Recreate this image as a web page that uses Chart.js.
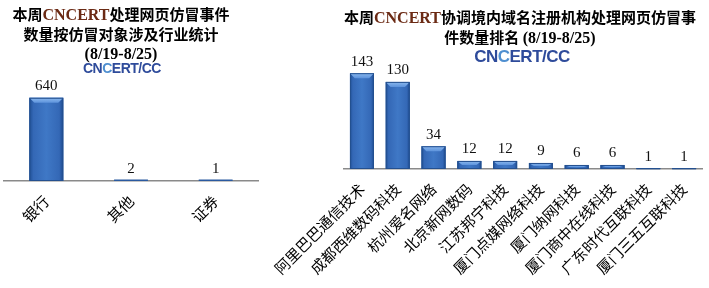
<!DOCTYPE html>
<html lang="zh">
<head>
    <meta charset="UTF-8" />
    <title>本周CNCERT网页仿冒事件统计</title>
    <script src="https://cdn.jsdelivr.net/npm/chart.js"></script>
    <style>
        body {
            margin: 0;
            padding: 0;
            background: #fff;
            width: 709px;
            height: 288px;
            position: relative;
            overflow: hidden;
            font-family: 'Noto Sans CJK SC', sans-serif;
        }

        .title {
            position: absolute;
            text-align: center;
            font-size: 15px;
            line-height: 19px;
            font-weight: bold;
            color: #000;
            z-index: 2;
        }

        .title .en {
            font-family: 'Liberation Serif', serif;
            font-weight: bold;
            font-size: 16px;
        }

        .title .brand {
            color: #6b2a14;
        }

        .logo {
            position: absolute;
            font-family: 'Liberation Sans', Arial, sans-serif;
            font-weight: bold;
            color: #2e4b9b;
            transform: translateX(-50%);
            letter-spacing: -0.5px;
            z-index: 2;
        }

        .logo .globe {
            color: #4f8fd0;
        }

        .box {
            position: absolute;
            top: 0;
            height: 288px;
        }
    </style>
</head>
<body>
    <div class="title" style="left:0; top:4px; width:242px;">
        本周<span class="en brand">CNCERT</span>处理网页仿冒事件<br>
        数量按仿冒对象涉及行业统计<br>
        <span class="en">(8/19-8/25)</span>
    </div>
    <div class="logo" style="left:122px; top:60px; font-size:14px;">CN<span class="globe">C</span>ERT/CC</div>

    <div class="title" style="left:330px; top:7px; width:380px;">
        本周<span class="en brand">CNCERT</span>协调境内域名注册机构处理网页仿冒事<br>
        件数量排名 <span class="en">(8/19-8/25)</span>
    </div>
    <div class="logo" style="left:522px; top:47px; font-size:17px;">CN<span class="globe">C</span>ERT/CC</div>

    <div class="box" style="left:0; width:262px;"><canvas id="industryChart" width="262" height="288"></canvas></div>
    <div class="box" style="left:262px; width:447px;"><canvas id="registrarChart" width="447" height="288"></canvas></div>

    <script>
        // left chart: by industry
        const industryLabels = ['银行', '其他', '证券'];
        const industryCounts = [640, 2, 1];

        // right chart: by registrar
        const registrarLabels = [
            '阿里巴巴通信技术', '成都西维数码科技', '杭州爱名网络', '北京新网数码', '江苏邦宁科技',
            '厦门点媒网络科技', '厦门纳网科技', '厦门商中在线科技', '广东时代互联科技', '厦门三五互联科技'
        ];
        const registrarCounts = [143, 130, 34, 12, 12, 9, 6, 6, 1, 1];

        // shaded bars drawn over the library's bar elements
        const bevelBars = {
            id: 'bevelBars',
            afterDatasetsDraw(chart) {
                const ctx = chart.ctx;
                const meta = chart.getDatasetMeta(0);
                ctx.save();
                meta.data.forEach(bar => {
                    const { x, y, base, width } = bar.getProps(['x', 'y', 'base', 'width'], true);
                    const left = x - width / 2;
                    const h = base - y;
                    if (h < 0.5) {
                        ctx.fillStyle = '#2a5aa0';
                        ctx.fillRect(left, base - 1.5, width, 1.5);
                        return;
                    }
                    const grad = ctx.createLinearGradient(left, 0, left + width, 0);
                    grad.addColorStop(0, '#1f4f95');
                    grad.addColorStop(0.12, '#3468b6');
                    grad.addColorStop(0.5, '#3f78c6');
                    grad.addColorStop(0.88, '#3468b6');
                    grad.addColorStop(1, '#1d4a8e');
                    ctx.fillStyle = grad;
                    ctx.fillRect(left, y, width, h);

                    // top bevel
                    const bev = Math.min(5, h / 2);
                    const inset = Math.min(5, width / 5);
                    const tg = ctx.createLinearGradient(0, y, 0, y + bev);
                    tg.addColorStop(0, '#8cb9ee');
                    tg.addColorStop(1, '#5d93dc');
                    ctx.fillStyle = tg;
                    ctx.beginPath();
                    ctx.moveTo(left, y);
                    ctx.lineTo(left + width, y);
                    ctx.lineTo(left + width - inset, y + bev);
                    ctx.lineTo(left + inset, y + bev);
                    ctx.closePath();
                    ctx.fill();

                    ctx.strokeStyle = '#24508f';
                    ctx.lineWidth = 1;
                    ctx.strokeRect(left + 0.5, y + 0.5, width - 1, h - 1);
                });
                ctx.restore();
            }
        };

        // value on top of each bar
        const valueLabels = {
            id: 'valueLabels',
            afterDatasetsDraw(chart) {
                const ctx = chart.ctx;
                const meta = chart.getDatasetMeta(0);
                const values = chart.data.datasets[0].data;
                ctx.save();
                ctx.font = '15px "Liberation Serif", serif';
                ctx.fillStyle = '#111';
                ctx.textAlign = 'center';
                ctx.textBaseline = 'bottom';
                meta.data.forEach((bar, i) => {
                    ctx.fillText(values[i], bar.x, bar.y - 4);
                });
                ctx.restore();
            }
        };

        function makeChart(id, labels, values, opts) {
            return new Chart(document.getElementById(id).getContext('2d'), {
                type: 'bar',
                data: {
                    labels: labels,
                    datasets: [{
                        data: values,
                        backgroundColor: '#3a70be',
                        barPercentage: opts.barPct,
                        categoryPercentage: 1
                    }]
                },
                options: {
                    responsive: false,
                    animation: false,
                    layout: { padding: opts.padding },
                    plugins: {
                        legend: { display: false },
                        tooltip: { enabled: false }
                    },
                    scales: {
                        x: {
                            grid: { display: false, drawTicks: false },
                            border: { display: true, color: '#8a8a8a', width: 1.5 },
                            ticks: {
                                autoSkip: false,
                                maxRotation: 45,
                                minRotation: 45,
                                padding: opts.tickPad,
                                color: '#000',
                                font: { family: "'Noto Sans CJK SC', sans-serif", size: 15 }
                            },
                            afterFit: scale => { scale.height = opts.axisHeight; }
                        },
                        y: {
                            display: false,
                            min: 0,
                            max: opts.yMax
                        }
                    }
                },
                plugins: [bevelBars, valueLabels]
            });
        }

        makeChart('industryChart', industryLabels, industryCounts, {
            barPct: 0.4,
            padding: { left: 4, right: 4, top: 51, bottom: 0 },
            tickPad: 11,
            axisHeight: 107,
            yMax: 1000
        });

        makeChart('registrarChart', registrarLabels, registrarCounts, {
            barPct: 0.67,
            padding: { left: 82, right: 7, top: 35, bottom: 0 },
            tickPad: 11,
            axisHeight: 119,
            yMax: 200
        });
    </script>
</body>
</html>
